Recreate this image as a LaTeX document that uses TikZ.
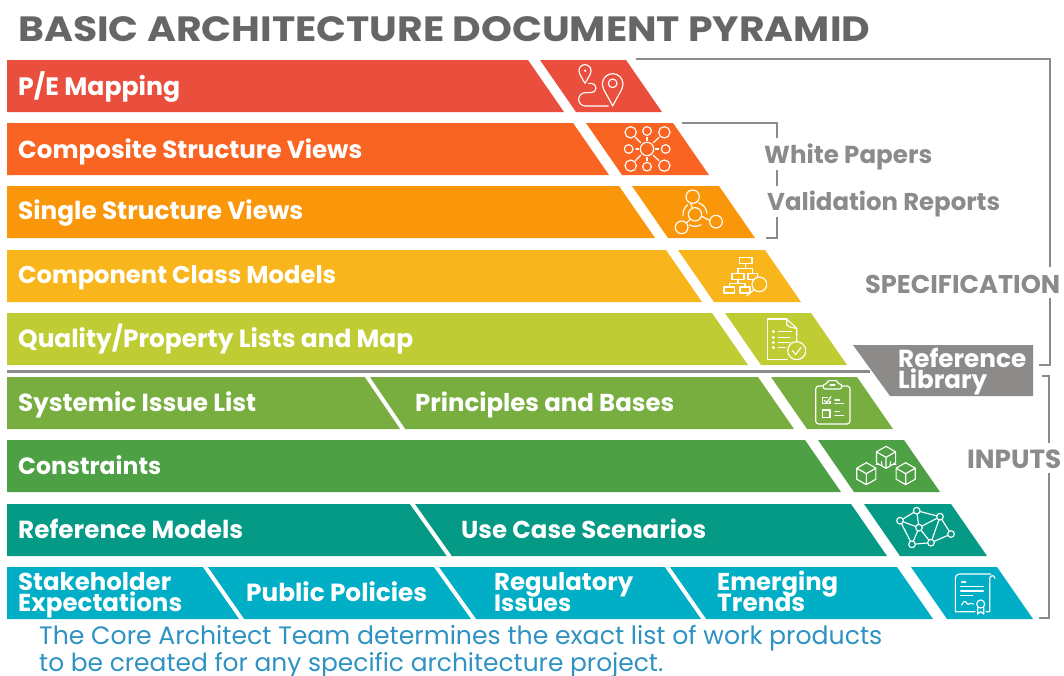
\documentclass[tikz,border=0pt]{standalone}
\usepackage{fontspec}
\usepackage{graphicx}
\setmainfont{Poppins}
\definecolor{cA}{HTML}{EA4F3D}
\definecolor{cB}{HTML}{F96422}
\definecolor{cC}{HTML}{FA9609}
\definecolor{cD}{HTML}{F8B61C}
\definecolor{cE}{HTML}{C0CC33}
\definecolor{cF}{HTML}{78AE40}
\definecolor{cG}{HTML}{4EA045}
\definecolor{cH}{HTML}{059A85}
\definecolor{cI}{HTML}{00AEC5}
\definecolor{gline}{HTML}{8C8B89}
\definecolor{gtitle}{HTML}{666666}
\definecolor{note}{HTML}{2E92C2}
\newcommand{\fitw}[2]{\resizebox{#1pt}{!}{#2}}
% tl x, tr x, y top ; bottom = +52, skew = +36
\newcommand{\seg}[4]{\fill[#1] (#2,#4) -- (#3,#4) -- (#3+36,#4+52) -- (#2+36,#4+52) -- cycle;}
\newcommand{\lft}[3]{\fill[#1] (7,#3) -- (#2,#3) -- (#2+36,#3+52) -- (7,#3+52) -- cycle;}
\newcommand{\boxy}[3]{\draw[ico] (#1-#3,#2-9) rectangle (#1+#3,#2+9);}
\newcommand{\cube}[3]{\draw[ico,fill=none] (#1,#2-#3) -- (#1+.87*#3,#2-.5*#3) -- (#1+.87*#3,#2+.5*#3) -- (#1,#2+#3) -- (#1-.87*#3,#2+.5*#3) -- (#1-.87*#3,#2-.5*#3) -- cycle (#1-.87*#3,#2-.5*#3) -- (#1,#2) -- (#1+.87*#3,#2-.5*#3) (#1,#2) -- (#1,#2+#3);}
\tikzset{
 x=1pt,y=-1pt,
 lbl/.style={anchor=base west,inner sep=0pt,text=white,font=\bfseries},
 glbl/.style={anchor=base west,inner sep=0pt,text=gline,font=\bfseries},
 brk/.style={draw=gline,line width=2pt},
 ico/.style={draw=white,line width=1.15pt,line cap=round,line join=round},
}
\begin{document}
\begin{tikzpicture}
\useasboundingbox (0,0) rectangle (1064,675);
\fill[white] (0,0) rectangle (1064,675);
\node[anchor=base west,inner sep=0pt,text=gtitle,font=\bfseries] (title) at (18,41) {\resizebox{852pt}{25pt}{BASIC ARCHITECTURE DOCUMENT PYRAMID}};
% bands
\lft{cA}{528}{60}\seg{cA}{540}{626}{60}
\lft{cB}{573}{123}\seg{cB}{586}{673}{123}
\lft{cC}{619}{186}\seg{cC}{632}{719}{186}
\lft{cD}{666}{250}\seg{cD}{678}{765}{250}
\lft{cE}{712}{313}\seg{cE}{725}{811}{313}
\lft{cF}{758}{377}\seg{cF}{771}{857}{377}
\lft{cG}{805}{440}\seg{cG}{818}{904}{440}
\lft{cH}{851}{504}\seg{cH}{864}{951}{504}
\lft{cI}{897}{567}\seg{cI}{911}{997}{567}
% dividers
\draw[white,line width=4pt] (366,375) -- (404,431);
\draw[white,line width=4pt] (411,502) -- (450,557);
\draw[white,line width=4pt] (204,565) -- (243,621);
\draw[white,line width=4pt] (435,565) -- (475,621);
\draw[white,line width=4pt] (666,565) -- (705,621);
% rule and reference library
\draw[gline,line width=3pt] (7,371) -- (870,371);
\fill[gline] (853,345) -- (1033,345) -- (1033,396) -- (890,396) -- cycle;
\node[lbl,anchor=base west] (rl1) at (898,367) {\fitw{128}{Reference}};
\node[lbl,anchor=base west] (rl2) at (898,388) {\fitw{89}{Library}};
% brackets
\draw[brk] (636,59) -- (1050,59) -- (1050,267);
\draw[brk] (1050,298) -- (1050,365) -- (1039,365);
\draw[brk] (1042,376) -- (1049,376) -- (1049,443);
\draw[brk] (1049,473) -- (1049,618) -- (1039,618);
\draw[brk] (682,123) -- (777,123) -- (777,138);
\draw[brk] (777,170) -- (777,186);
\draw[brk] (777,217) -- (777,238) -- (766,238);
% grey labels
\node[glbl] (wp) at (764,163) {\fitw{168}{White Papers}};
\node[glbl] (vr) at (767,210) {\fitw{233}{Validation Reports}};
\node[glbl] (sp) at (865,293) {\fitw{195}{SPECIFICATION}};
\node[glbl] (in) at (967,468) {\fitw{94}{INPUTS}};
% band labels
\node[lbl] (t1) at (18,95) {\fitw{162}{P/E Mapping}};
\node[lbl] (t2) at (18,158) {\fitw{344}{Composite Structure Views}};
\node[lbl] (t3) at (18,219) {\fitw{285}{Single Structure Views}};
\node[lbl] (t4) at (18,283) {\fitw{318}{Component Class Models}};
\node[lbl] (t5) at (18,347) {\fitw{395}{Quality/Property Lists and Map}};
\node[lbl] (t6) at (18,411) {\fitw{238}{Systemic Issue List}};
\node[lbl] (t6b) at (415,411) {\fitw{259}{Principles and Bases}};
\node[lbl] (t7) at (18,474) {\fitw{143}{Constraints}};
\node[lbl] (t8) at (18,538) {\fitw{225}{Reference Models}};
\node[lbl] (t8b) at (461,538) {\fitw{245}{Use Case Scenarios}};
\node[lbl] (t9a) at (18,590) {\fitw{153}{Stakeholder}};
\node[lbl] (t9b) at (18,611) {\fitw{164}{Expectations}};
\node[lbl] (t9c) at (246,601) {\fitw{181}{Public Policies}};
\node[lbl] (t9d) at (494,590) {\fitw{139}{Regulatory}};
\node[lbl] (t9e) at (494,611) {\fitw{77}{Issues}};
\node[lbl] (t9f) at (717,590) {\fitw{121}{Emerging}};
\node[lbl] (t9g) at (717,611) {\fitw{88}{Trends}};
% footer
\node[anchor=base west,inner sep=0pt,text=note] (n1) at (39,644) {\fitw{843}{The Core Architect Team determines the exact list of work products}};
\node[anchor=base west,inner sep=0pt,text=note] (n2) at (39,671) {\fitw{624}{to be created for any specific architecture project.}};
% icon 1, 2, 3 (zoom coordinates)
\begin{scope}[shift={(530,50)},x=1pt,y=-1pt,scale=1/3]
 \draw[ico] (165,100) .. controls (155,82) and (147,72) .. (147,62) arc[start angle=180,end angle=360,radius=18] .. controls (183,72) and (175,82) .. (165,100) -- cycle;
 \fill[white] (165,62) circle[radius=4];
 \draw[ico] (248,168) .. controls (232,135) and (217,118) .. (217,102) arc[start angle=180,end angle=360,radius=31] .. controls (279,118) and (264,135) .. (248,168) -- cycle;
 \draw[ico] (248,100) circle[radius=13];
 \draw[ico] (176,100) -- (184,100) arc[start angle=-90,end angle=90,radius=14] -- (166,128) arc[start angle=270,end angle=90,radius=20] -- (235,168);
 % nodes
 \foreach \p/\r in {302/17,403/17}{\draw[ico] (\p,247) circle[radius=\r]; \draw[ico] (\p,347) circle[radius=\r];}
 \draw[ico] (351,243) circle[radius=13]; \draw[ico] (351,350) circle[radius=13];
 \draw[ico] (296,297) circle[radius=13]; \draw[ico] (407,297) circle[radius=13];
 \draw[ico] (351,297) circle[radius=20];
 \draw[ico] (316,262) -- (332,278) (387,262) -- (370,278) (316,332) -- (332,316) (387,332) -- (370,316);
 \draw[ico] (351,262) -- (351,272) (351,322) -- (351,332) (318,297) -- (326,297) (376,297) -- (386,297);
 % molecule
 \draw[ico] (495,493) circle[radius=20];
 \draw[ico] (488,440) circle[radius=20];
 \draw[ico] (455,532) circle[radius=19];
 \draw[ico] (558,515) circle[radius=19];
 \draw[ico] (482,460) -- (487,474) (470,518) -- (481,507) (539,511) -- (515,499);
 \draw[ico] (495,493) ++(-72:36) arc[start angle=-72,end angle=-5,radius=36];
 \draw[ico] (495,493) ++(-128:36) arc[start angle=-128,end angle=-185,radius=36];
 \draw[ico] (495,493) ++(60:36) arc[start angle=60,end angle=118,radius=36];
\end{scope}
\begin{scope}[shift={(670,240)},x=1pt,y=-1pt,scale=1/3]
 % org chart
 \boxy{227}{61}{19}\boxy{204}{109}{18}\boxy{248}{109}{14}\boxy{178}{150}{16}\boxy{225}{150}{15}
 \draw[ico] (227,70) -- (227,85) (204,85) -- (248,85) (204,85) -- (204,100) (248,85) -- (248,100) (204,118) -- (204,130) (178,130) -- (225,130) (178,130) -- (178,141) (225,130) -- (225,141);
 \draw[ico,fill=cD] (268,133) circle[radius=22];
 \draw[ico] (252,149) -- (230,168);
 % document
 \draw[ico] (350,237) -- (292,237) -- (292,358) -- (352,358);
 \draw[ico] (350,237) -- (380,265) -- (380,305);
 \draw[ico] (350,237) -- (350,255) -- (362,262) -- (380,265);
 \foreach \y in {275,292,308,323}{\fill[white] (310,\y) circle[radius=5];}
 \draw[ico] (325,275) -- (365,275) (325,292) -- (360,292) (325,308) -- (360,308) (325,323) -- (345,323);
 \draw[ico] (380,332) circle[radius=27];
 \draw[ico] (367,332) -- (377,344) -- (393,322);
 % clipboard
 \draw[ico,rounded corners=3pt] (460,438) -- (437,438) -- (437,552) -- (540,552) -- (540,438) -- (515,438);
 \draw[ico,rounded corners=2pt] (460,447) -- (460,432) -- (472,432) -- (472,422) -- (503,422) -- (503,432) -- (515,432) -- (515,447) -- cycle;
 \draw[ico] (480,435) -- (495,435);
 \draw[ico] (458,472) -- (458,491) -- (480,491) -- (480,484);
 \draw[ico] (458,472) -- (472,472);
 \draw[ico] (463,481) -- (470,488) -- (483,470);
 \draw[ico] (495,480) -- (508,480) (495,491) -- (520,491);
 \draw[ico] (458,510) rectangle (480,532);
 \draw[ico] (495,515) -- (508,515) (495,527) -- (520,527);
\end{scope}
\begin{scope}[shift={(800,430)},x=1pt,y=-1pt,scale=1/3]
 \cube{258}{82}{33}\cube{199}{131}{33}\cube{317}{131}{33}
 \draw[ico] (228,103) -- (236,103) (280,103) -- (288,103) (244,95) -- (246,105) (272,95) -- (270,105);
 % network
 \draw[ico] (350,242) -- (420,260) -- (453,312) -- (393,338) -- (336,343) -- (300,272) -- cycle;
 \draw[ico] (350,242) -- (357,293) -- (420,260) -- (393,338) -- (357,293) -- (336,343) (300,272) -- (357,293);
 \foreach \p/\q in {350/242,420/260,300/272,357/293,453/312,336/343,393/338}{\draw[ico,fill=cH] (\p,\q) circle[radius=10];}
 % certificate
 \draw[ico] (585,445) arc[start angle=0,end angle=-180,radius=8] -- (569,545) -- (558,545);
 \draw[ico] (572,432) -- (478,432) arc[start angle=270,end angle=180,radius=12] -- (466,545) -- (525,545);
 \draw[ico] (485,456) -- (497,456) (482,470) -- (550,470) (482,483) -- (550,483) (482,496) -- (518,496);
 \draw[ico] (485,525) .. controls (492,510) and (497,512) .. (500,520) .. controls (505,528) and (510,515) .. (520,522);
 \draw[ico] (542,522) circle[radius=12];
 \draw[ico] (533,532) -- (533,552) -- (542,545) -- (551,552) -- (551,532);
\end{scope}
\end{tikzpicture}
\end{document}
